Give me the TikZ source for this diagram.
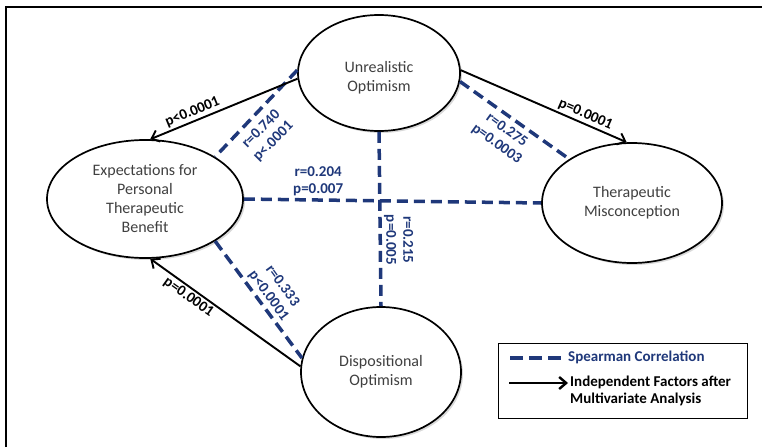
\documentclass[tikz,border=0pt]{standalone}
\usepackage{fontspec}
\setmainfont{Carlito}
\usetikzlibrary{positioning,arrows.meta,shapes.geometric,shadows}
\definecolor{corrblue}{RGB}{31,56,122}
\definecolor{nodegrey}{RGB}{64,64,64}

\begin{document}
\begin{tikzpicture}[x=1pt, y=-1pt,
  factor/.style={ellipse, draw, line width=1.7pt, fill=white, inner sep=0pt, align=center,
    text=nodegrey, font=\fontsize{16}{19}\selectfont,
    drop shadow={opacity=0.3, shadow xshift=2pt, shadow yshift=-2pt}},
  corr/.style={draw=corrblue, line width=3.5pt, dash pattern=on 11pt off 6pt},
  indep/.style={draw, line width=1.9pt, -{Straight Barb[length=7pt,width=12pt]}},
  corrlab/.style={text=corrblue, font=\bfseries\fontsize{15}{17}\selectfont, align=center, inner sep=2pt},
  indeplab/.style={font=\bfseries\fontsize{15}{17}\selectfont, inner sep=2pt}]
  \useasboundingbox (0,0) rectangle (762,447);
  % frame
  \draw[line width=1.5pt] (6,447) -- (6,7) -- (762,7);

  % factors
  \node[factor, minimum width=162pt, minimum height=116pt] (UO) at (379,73) {\rule{0pt}{20pt}Unrealistic\\Optimism};
  \node[factor, minimum width=196pt, minimum height=118pt] (EPTB) at (145,199) {Expectations for\\Personal\\Therapeutic\\Benefit};
  \node[factor, minimum width=180pt, minimum height=120pt] (TM) at (632,203) {Therapeutic\\Misconception};
  \node[factor, minimum width=160pt, minimum height=130pt] (DO) at (381,372) {Dispositional\\Optimism};

  % correlations
  \draw[corr] (UO.178) -- node[corrlab, pos=0.57, xshift=17pt, yshift=-16pt, rotate=45] {r=0.740\\p<.0001} (EPTB.31);
  \draw[corr] (UO.354) -- node[corrlab, pos=0.5, xshift=-13pt, yshift=-17pt, rotate=-36] {r=0.275\\p=0.0003} (TM.145);
  \draw[corr] (EPTB.east) -- node[corrlab, above, pos=0.25] {r=0.204\\p=0.007} (TM.west);
  \draw[corr] (UO.south) -- node[corrlab, rotate=-90, anchor=south, pos=0.62] {r=0.215\\p=0.005} (DO.north);
  \draw[corr] (EPTB.-31) -- node[corrlab, pos=0.52, xshift=15pt, yshift=11pt, rotate=-54] {r=0.333\\p<0.0001} (DO.170);

  % independent factors
  \draw[indep] (UO.184) -- node[indeplab, sloped, above, pos=0.69] {p<0.0001} (EPTB.85);
  \draw[indep] (UO.2) -- node[indeplab, sloped, above, pos=0.73] {p=0.0001} (TM.95);
  \draw[indep] (DO.176) -- node[indeplab, sloped, below, pos=0.71] {p=0.0001} (EPTB.-85);

  % legend
  \node[draw, line width=1.2pt, minimum width=249pt, minimum height=75pt, anchor=north west] (legend) at (498,343) {};
  \node[corrlab, anchor=west] (spear) at (566,357) {Spearman Correlation};
  \node[indeplab, align=left, anchor=west] (indeptext) at (568,391) {Independent Factors after\\Multivariate Analysis};
  \coordinate (corrA) at (510,358);
  \coordinate (corrB) at (562,358);
  \coordinate (indepA) at (509,383);
  \coordinate (indepB) at (568,383);
  \draw[corr, dash pattern=on 13pt off 6pt] (corrA) -- (corrB);
  \draw[indep, line width=2.4pt] (indepA) -- (indepB);
\end{tikzpicture}
\end{document}
